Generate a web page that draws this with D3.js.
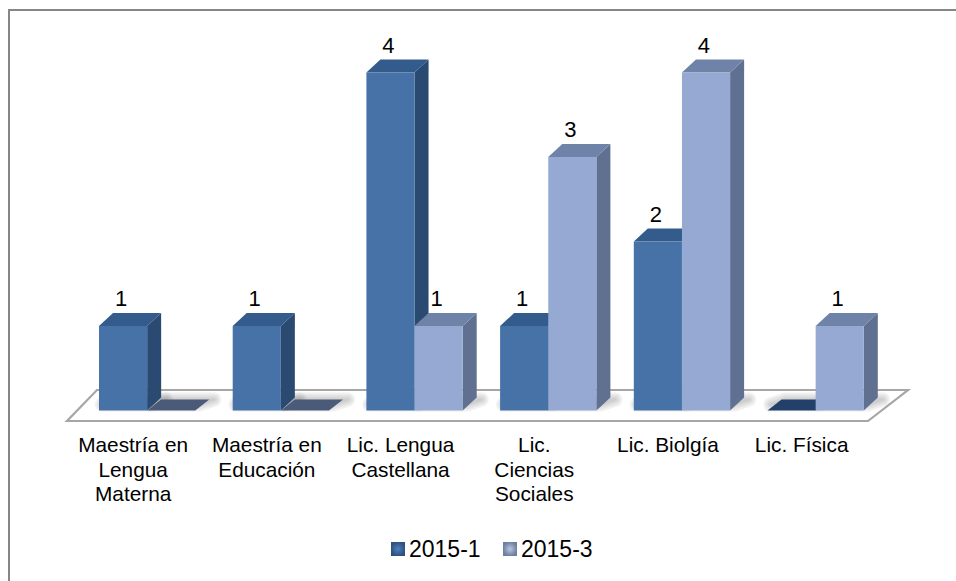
<!DOCTYPE html>
<html><head><meta charset="utf-8">
<style>html,body{margin:0;padding:0;background:#fff}svg{display:block}text{font-family:"Liberation Sans",Arial,sans-serif;fill:#000}</style>
<script src="https://cdn.jsdelivr.net/npm/d3@7/dist/d3.min.js"></script>
</head><body><script>
const categories=["Maestría en Lengua Materna","Maestría en Educación","Lic. Lengua Castellana","Lic. Ciencias Sociales","Lic. Biolgía","Lic. Física"];
const categoryLines=[["Maestría en","Lengua","Materna"],["Maestría en","Educación"],["Lic. Lengua","Castellana"],["Lic.","Ciencias","Sociales"],["Lic. Biolgía"],["Lic. Física"]];
const seriesNames=["2015-1","2015-3"];
const values1=[1,1,4,1,2,0];
const values2=[0,0,1,3,4,1];
const W=956,H=581,dx=14,dy=13,base=410.5;
const svg=d3.select("body").append("svg").attr("width",W).attr("height",H);
const defs=svg.append("defs");
const colors=[{front:"#4672a8",side:"#2a4a72",top:"#335b8b",flat:"#22406a"},{front:"#95a9d2",side:"#5f7090",top:"#6f83a8",flat:"#4a5a78"}];
[0,1].forEach(i=>{const g=defs.append("radialGradient").attr("id","leg"+i);
 g.append("stop").attr("offset","0%").attr("stop-color",i?"#b9c6e2":"#4f80bd");
 g.append("stop").attr("offset","100%").attr("stop-color",i?"#6f7f9f":"#2e5280");});

svg.append("path").attr("d","M956,10H9V581").attr("fill","none").attr("stroke","#868686").attr("stroke-width",2);

const x0=d3.scaleBand().domain(categories).range([99,99+6*133.7-37.4]).paddingInner(37.4/133.7).paddingOuter(0);
const x1=d3.scaleBand().domain(seriesNames).range([0,x0.bandwidth()]);
const y=d3.scaleLinear().domain([0,4]).range([base,72.5]);
const root=svg.append("g");

// floor
root.append("path").attr("d","M97,390H908L868,421H67Z").attr("fill","#fff").attr("stroke","#a6a6a6").attr("stroke-width",2.2);
const pts=(a)=>a.map(p=>p.join(",")).join(" ");
const rows=categories.flatMap((c,i)=>[{c,i,s:0,v:values1[i]},{c,i,s:1,v:values2[i]}]);
const shadow=root.append("g").attr("class","shadow");
[14,10,6,2].forEach(sw=>{
 shadow.append("g").selectAll("polygon").data(rows).join("polygon")
 .attr("points",d=>{const l=x0(d.c)+x1(seriesNames[d.s]),w=x1.bandwidth();return pts([[l+3,base-6],[l+w+4,base-6],[l+w+dx+5,base-dy+2],[l+dx+4,base-dy+2]]);})
 .attr("fill","#555").attr("stroke","#555").attr("stroke-width",sw).attr("stroke-linejoin","round").attr("opacity",.075);
});

const bars=root.selectAll("g.bar").data(rows).join("g").attr("class","bar");
bars.each(function(d){
 const g=d3.select(this),l=x0(d.c)+x1(seriesNames[d.s]),w=x1.bandwidth(),r=l+w,t=y(d.v),col=colors[d.s];
 if(d.v===0){
  g.append("polygon").attr("points",pts([[l,base],[r,base],[r+dx,base-dy+2],[l+dx,base-dy+2]])).attr("fill",col.flat);
  return;
 }
 g.append("polygon").attr("points",pts([[r,t],[r+dx,t-dy],[r+dx,base-dy],[r,base]])).attr("fill",col.side);
 g.append("polygon").attr("points",pts([[l,t],[l+dx,t-dy],[r+dx,t-dy],[r,t]])).attr("fill",col.top);
 g.append("rect").attr("x",l).attr("y",t).attr("width",w).attr("height",base-t).attr("fill",col.front);
});
// value labels
svg.append("g").selectAll("text").data(rows.filter(d=>d.v>0)).join("text")
 .attr("x",d=>x0(d.c)+x1(seriesNames[d.s])+22).attr("y",d=>y(d.v)-20)
 .attr("text-anchor","middle").attr("font-size",22).text(d=>d.v);
// category labels
const lab=svg.append("g").selectAll("text").data(categories).join("text")
 .attr("text-anchor","middle").attr("font-size",20.8);
lab.each(function(c,i){
 d3.select(this).selectAll("tspan").data(categoryLines[i]).join("tspan")
  .attr("x",x0(c)+x0.bandwidth()/2-14).attr("y",(t,j)=>452+j*24.6).text(t=>t);
});
// legend
const leg=svg.append("g").selectAll("g").data(seriesNames).join("g")
 .attr("transform",(d,i)=>`translate(${391+i*112},542)`);
leg.append("rect").attr("width",14).attr("height",14).attr("fill",(d,i)=>`url(#leg${i})`);
leg.append("text").attr("x",18).attr("y",15).attr("font-size",23).text(d=>d);
</script></body></html>
